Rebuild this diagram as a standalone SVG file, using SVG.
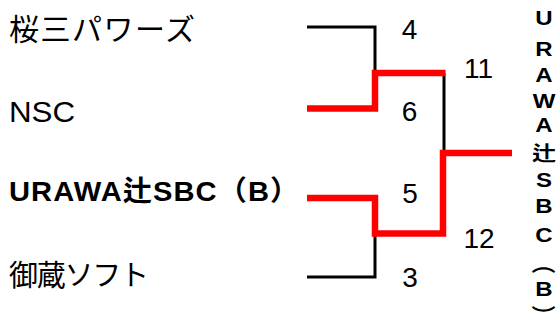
<svg xmlns="http://www.w3.org/2000/svg" width="558" height="325" viewBox="0 0 558 325">
<style>
.lbl{font-family:"Noto Sans CJK JP","Liberation Sans",sans-serif;fill:#000}
.lat{font-family:"Liberation Sans","Noto Sans CJK JP",sans-serif;fill:#000}
.num{font-family:"Liberation Sans",sans-serif;font-size:28px;fill:#000;text-anchor:middle}
.blk{fill:none;stroke:#000;stroke-width:3;stroke-linejoin:miter}
.red{fill:none;stroke:#ff0000;stroke-width:6.5;stroke-linejoin:miter}
</style>
<rect width="558" height="325" fill="#fff"/>
<g id="connectors">
<path class="blk" d="M307,27 H375 V73"/>
<path class="blk" d="M444,73 V153"/>
<path class="blk" d="M375,233 V277 H307"/>
<path class="red" d="M307,108.5 H375 V73 H445.5"/>
<path class="red" d="M307,198 H375 V233.5 H443 V153 H512"/>
</g>
<g id="team1"><text class="lbl" x="9" y="40" font-size="30" textLength="186" lengthAdjust="spacing">桜三パワーズ</text></g>
<g id="team2"><text class="lat" x="9" y="122" font-size="29" transform="translate(9,0) scale(1.08,1) translate(-9,0)">NSC</text></g>
<g id="team3"><text class="lat" x="9" y="201" font-size="28" font-weight="bold" textLength="279" lengthAdjust="spacing" transform="translate(9,0) scale(1.04,1) translate(-9,0)">URAWA辻SBC（B）</text></g>
<g id="team4"><text class="lbl" x="9" y="286" font-size="29" textLength="140" lengthAdjust="spacing">御蔵ソフト</text></g>
<g id="scores">
<text class="num" x="409.5" y="39">4</text>
<text class="num" x="409.5" y="121">6</text>
<text class="num" x="410" y="203">5</text>
<text class="num" x="410" y="287">3</text>
<text class="num" x="478.5" y="78">11</text>
<text class="num" x="479" y="248">12</text>
</g>
<g id="winner">
<text class="lat" font-size="20" font-weight="bold" text-anchor="middle" transform="translate(544,0) scale(1.2,1)"><tspan x="0" y="25">U</tspan><tspan x="0" y="56">R</tspan><tspan x="0" y="82">A</tspan><tspan x="0" y="108">W</tspan><tspan x="0" y="132">A</tspan><tspan x="0" y="161">辻</tspan><tspan x="0" y="187">S</tspan><tspan x="0" y="213">B</tspan><tspan x="0" y="242">C</tspan><tspan x="2.5" y="254" rotate="90">（</tspan><tspan x="0" y="296">B</tspan><tspan x="2.5" y="305" rotate="90">）</tspan></text>
</g>
</svg>
